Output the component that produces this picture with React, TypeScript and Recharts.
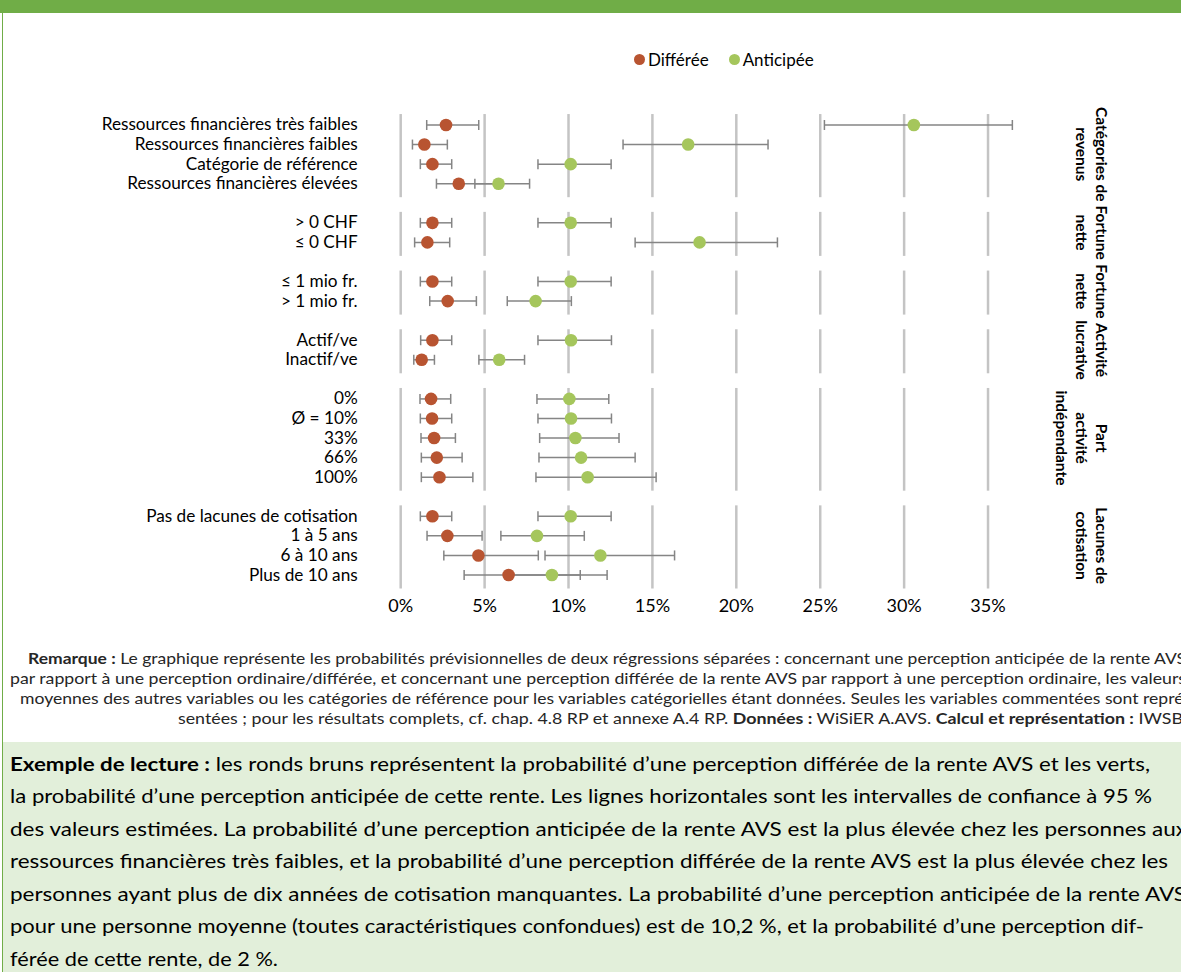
import React from 'react';
import { ScatterChart, Scatter, XAxis, YAxis, ErrorBar, ReferenceLine, Legend } from 'recharts';

const FONT = 'Lato, "Open Sans", sans-serif';
const BROWN = '#b85431';
const GREEN = '#a5c65c';
const GRID = '#c4c4c4';
const WHISKER = '#858585';
const FRAME = '#70ad47';

// y categories, top to bottom
const rowLabels = [
  'Ressources financières très faibles',
  'Ressources financières faibles',
  'Catégorie de référence',
  'Ressources financières élevées',
  '> 0 CHF',
  '≤ 0 CHF',
  '≤ 1 mio fr.',
  '> 1 mio fr.',
  'Actif/ve',
  'Inactif/ve',
  '0%',
  'Ø = 10%',
  '33%',
  '66%',
  '100%',
  'Pas de lacunes de cotisation',
  '1 à 5 ans',
  '6 à 10 ans',
  'Plus de 10 ans',
];
const rowGroup = [0, 0, 0, 0, 1, 1, 2, 2, 3, 3, 4, 4, 4, 4, 4, 5, 5, 5, 5];
const groupNames = [
  ['Catégories de', 'revenus'],
  ['Fortune', 'nette'],
  ['Fortune', 'nette'],
  ['Activité', 'lucrative'],
  ['Part', 'activité', 'indépendante'],
  ['Lacunes de', 'cotisation'],
];
const seriesNames = ['Différée', 'Anticipée'];

// probabilities in %
const differee = [2.7, 1.41, 1.89, 3.46, 1.89, 1.59, 1.89, 2.8, 1.89, 1.25, 1.81, 1.87, 1.99, 2.15, 2.31, 1.89, 2.78, 4.63, 6.43];
const differeeLow = [1.55, 0.7, 1.17, 2.13, 1.17, 0.83, 1.17, 1.73, 1.19, 0.78, 1.15, 1.17, 1.21, 1.23, 1.23, 1.17, 1.57, 2.57, 3.78];
const differeeHigh = [4.65, 2.78, 3.04, 5.71, 3.04, 2.92, 3.04, 4.51, 3.04, 2.01, 2.98, 3.04, 3.26, 3.66, 4.3, 3.04, 4.85, 8.2, 10.7];
const anticipee = [30.58, 17.13, 10.13, 5.83, 10.13, 17.81, 10.13, 8.04, 10.15, 5.87, 10.05, 10.15, 10.41, 10.75, 11.14, 10.13, 8.12, 11.9, 9.01];
const anticipeeLow = [25.25, 13.25, 8.18, 4.42, 8.18, 13.97, 8.18, 6.35, 8.18, 4.66, 8.12, 8.18, 8.28, 8.24, 8.06, 8.18, 5.97, 8.6, 6.55];
const anticipeeHigh = [36.45, 21.89, 12.54, 7.68, 12.54, 22.45, 12.54, 10.17, 12.56, 7.38, 12.4, 12.56, 13.01, 13.97, 15.22, 12.54, 10.94, 16.32, 12.3];

const xTicks = [0, 5, 10, 15, 20, 25, 30, 35];

// one empty slot between groups
const rowPos = rowLabels.map((_, i) => i + rowGroup[i]);
const groupRange = groupNames.map((_, g) => {
  const p = rowPos.filter((_, i) => rowGroup[i] === g);
  return [Math.min(...p), Math.max(...p)];
});
const groupCenters = groupRange.map(([a, b]) => (a + b) / 2);

const toPoints = (vals: number[], lo: number[], hi: number[]) =>
  vals.map((v, i) => ({ label: rowLabels[i], y: rowPos[i], x: v, err: [v - lo[i], hi[i] - v] }));

const diffData = toPoints(differee, differeeLow, differeeHigh);
const antData = toPoints(anticipee, anticipeeLow, anticipeeHigh);

const remarkLines = [
  [['Remarque :', true], [' Le graphique représente les probabilités prévisionnelles de deux régressions séparées : concernant une perception anticipée de la rente AVS', false]],
  [['par rapport à une perception ordinaire/différée, et concernant une perception différée de la rente AVS par rapport à une perception ordinaire, les valeurs', false]],
  [['moyennes des autres variables ou les catégories de référence pour les variables catégorielles étant données. Seules les variables commentées sont repré-', false]],
  [['sentées ; pour les résultats complets, cf. chap. 4.8 RP et annexe A.4 RP. ', false], ['Données :', true], [' WiSiER A.AVS. ', false], ['Calcul et représentation :', true], [' IWSB', false]],
];
const exampleLines = [
  [['Exemple de lecture :', true], [' les ronds bruns représentent la probabilité d’une perception différée de la rente AVS et les verts,', false]],
  [['la probabilité d’une perception anticipée de cette rente. Les lignes horizontales sont les intervalles de confiance à 95 %', false]],
  [['des valeurs estimées. La probabilité d’une perception anticipée de la rente AVS est la plus élevée chez les personnes aux', false]],
  [['ressources financières très faibles, et la probabilité d’une perception différée de la rente AVS est la plus élevée chez les', false]],
  [['personnes ayant plus de dix années de cotisation manquantes. La probabilité d’une perception anticipée de la rente AVS', false]],
  [['pour une personne moyenne (toutes caractéristiques confondues) est de 10,2 %, et la probabilité d’une perception dif-', false]],
  [['férée de cette rente, de 2 %.', false]],
];

// [x start, x end] of each text line
const remarkSpan = [[28, 1186], [10, 1186], [20, 1190], [178, 1183]];
const exampleSpan = [[10, 1150], [10, 1152], [10, 1187], [10, 1168], [10, 1186], [10, 1144], [10, 278]];

function RowTick({ x, y, payload }: any) {
  const i = rowPos.indexOf(payload.value);
  return (
    <text x={x} y={y} dy={5.5} textAnchor="end" fontSize={17.2} fontFamily={FONT} fill="#000">
      {rowLabels[i]}
    </text>
  );
}

function GroupTick({ x, y, payload }: any) {
  const g = groupCenters.indexOf(payload.value);
  const lines = groupNames[g] ?? [];
  return (
    <g transform={`translate(${x},${y}) rotate(90)`}>
      {lines.map((t, k) => (
        <text key={k} x={0} y={k * 20} textAnchor="middle" dominantBaseline="central"
          fontSize={15.5} fontWeight={700} fontFamily={FONT} fill="#000">
          {t}
        </text>
      ))}
    </g>
  );
}

const Dot = (p: any) => <circle cx={p.cx} cy={p.cy} r={6.3} fill={p.fill} />;

function LegendBox({ payload }: any) {
  const items = [...(payload ?? [])].sort(
    (a: any, b: any) => seriesNames.indexOf(a.value) - seriesNames.indexOf(b.value),
  );
  return (
    <div style={{ display: 'flex', alignItems: 'center', fontFamily: FONT, fontSize: 17, color: '#000' }}>
      {items.map((e: any) => (
        <span key={e.value} style={{ display: 'flex', alignItems: 'center', marginRight: 20 }}>
          <svg width={11} height={11} style={{ marginRight: 3 }}>
            <circle cx={5.5} cy={5.5} r={5.5} fill={e.color} />
          </svg>
          {e.value}
        </span>
      ))}
    </div>
  );
}

function TextBlock({ lines, spans, baseline, lineGap, size, color }: any) {
  const top = baseline - size * 1.5;
  return (
    <svg width={1181} height={lines.length * lineGap + size * 2} style={{ position: 'absolute', left: 0, top }}>
      {lines.map((parts: any[], i: number) => (
        <text key={i} x={spans[i][0]} y={size * 1.5 + lineGap * i} textLength={spans[i][1] - spans[i][0]}
          lengthAdjust="spacingAndGlyphs" fontSize={size} fontFamily={FONT} fill={color}>
          {parts.map(([t, b]: any, k: number) => (
            <tspan key={k} fontWeight={b ? 700 : 400}>{t}</tspan>
          ))}
        </text>
      ))}
    </svg>
  );
}

export default function App() {
  return (
    <div style={{ position: 'absolute', left: 0, top: 0, width: 1181, height: 972, overflow: 'hidden', background: '#fff' }}>
      <div style={{ position: 'absolute', left: 0, top: 0, width: 1181, height: 13, background: FRAME }} />
      <div style={{ position: 'absolute', left: 2, top: 0, width: 1, height: 972, background: FRAME }} />

      <div style={{ position: 'absolute', left: 0, top: 0 }}>
        <ScatterChart width={1181} height={640} margin={{ top: 113.26, right: 17.8, bottom: 21.3, left: 0 }}>
          <XAxis type="number" dataKey="x" domain={[0, 36.5]} ticks={xTicks} interval={0}
            tickFormatter={(v) => `${v}%`} axisLine={false} tickLine={false} tickSize={0} tickMargin={11}
            height={30} tick={{ fontSize: 18, fontFamily: FONT, fill: '#000' }} />
          <YAxis type="number" dataKey="y" domain={[-0.6, 23.7]} reversed ticks={rowPos} interval={0}
            width={400.7} axisLine={false} tickLine={false} tickSize={0} tickMargin={43} tick={<RowTick />}
            allowDataOverflow />
          <YAxis yAxisId="grp" orientation="right" type="number" domain={[-0.6, 23.7]} reversed
            ticks={groupCenters} interval={0} width={150} axisLine={false} tickLine={false} tickSize={0}
            tickMargin={89} tick={<GroupTick />} allowDataOverflow />
          <Legend verticalAlign="middle" align="center" layout="horizontal"
            wrapperStyle={{ top: 49, left: 634, width: 240 }} content={<LegendBox />} />
          {groupRange.flatMap(([a, b], g) =>
            xTicks.map((v) => (
              <ReferenceLine key={`${g}-${v}`} segment={[{ x: v, y: a - 0.56 }, { x: v, y: b + 0.69 }]}
                stroke={GRID} strokeWidth={2.5} />
            )),
          )}
          <Scatter name="Différée" data={diffData} fill={BROWN} shape={Dot} isAnimationActive={false}>
            <ErrorBar dataKey="err" direction="x" width={5} stroke={WHISKER} strokeWidth={1.5} />
          </Scatter>
          <Scatter name="Anticipée" data={antData} fill={GREEN} shape={Dot} isAnimationActive={false}>
            <ErrorBar dataKey="err" direction="x" width={5} stroke={WHISKER} strokeWidth={1.5} />
          </Scatter>
        </ScatterChart>
      </div>

      <TextBlock lines={remarkLines} spans={remarkSpan} baseline={663} lineGap={20.3} size={15} color="#262626" />

      <div style={{ position: 'absolute', left: 3, top: 742, width: 1178, height: 230, background: '#e2efda' }} />
      <TextBlock lines={exampleLines} spans={exampleSpan} baseline={770} lineGap={32.5} size={19} color="#000" />
    </div>
  );
}
